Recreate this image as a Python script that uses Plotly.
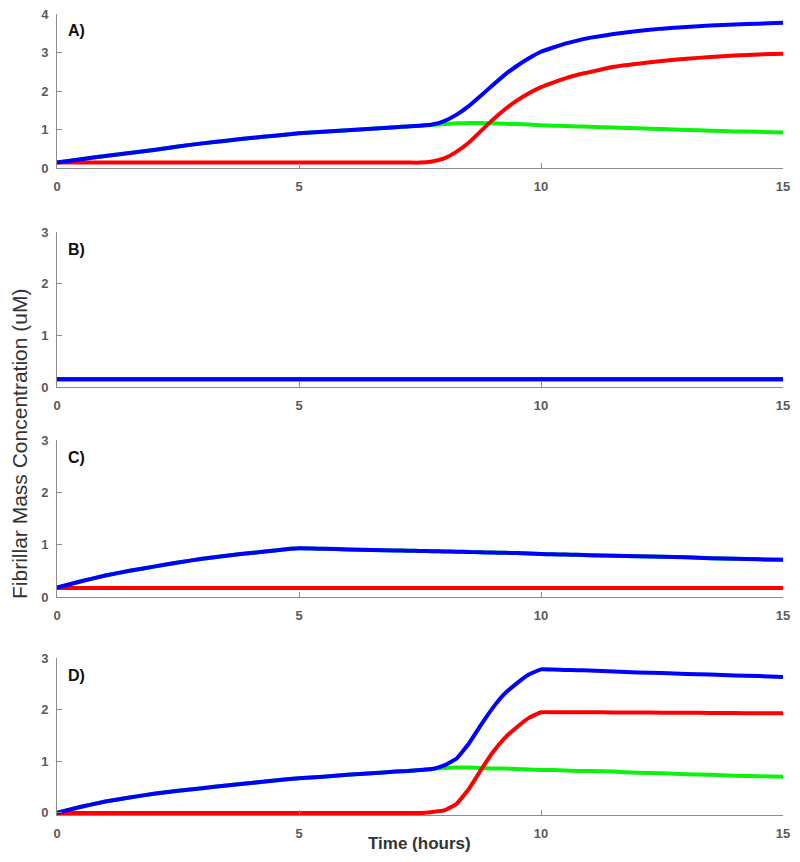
import plotly.graph_objects as go

# time grid (hours)
t = [0, 0.5, 1, 1.5, 2, 2.5, 3, 3.5, 4, 4.5, 5, 5.5, 6, 6.5,
     7, 7.25, 7.5, 7.75, 8, 8.25, 8.5, 8.75, 9, 9.25, 9.5, 9.75, 10,
     10.25, 10.5, 10.75, 11, 11.5, 12, 12.5, 13, 13.5, 14, 14.5, 15]

# Panel A
a_blue = [0.14, 0.23, 0.31, 0.39, 0.47, 0.56, 0.64, 0.71, 0.78, 0.84, 0.90, 0.94, 0.98, 1.02,
          1.06, 1.08, 1.10, 1.13, 1.22, 1.38, 1.60, 1.87, 2.15, 2.42, 2.65, 2.85, 3.02,
          3.13, 3.23, 3.31, 3.38, 3.48, 3.56, 3.62, 3.66, 3.70, 3.73, 3.75, 3.77]
a_red = [0.14] * 17 + [0.17, 0.25, 0.42, 0.65, 0.95, 1.25, 1.52, 1.75, 1.94, 2.10,
                       2.22, 2.33, 2.42, 2.49, 2.63, 2.71, 2.78, 2.84, 2.88, 2.92, 2.95, 2.97]
a_green = a_blue[:17] + [1.12, 1.14, 1.16, 1.17, 1.17, 1.16, 1.15, 1.14, 1.13, 1.11,
                         1.10, 1.09, 1.08, 1.07, 1.05, 1.03, 1.01, 0.99, 0.97, 0.95, 0.94, 0.92]

# Panel B
b_blue = [0.15] * len(t)
b_red = [0.15] * len(t)
b_green = [0.15] * len(t)

# Panel C
c_blue = [0.18, 0.30, 0.41, 0.50, 0.58, 0.66, 0.73, 0.79, 0.84, 0.89, 0.93, 0.92, 0.91, 0.90,
          0.89, 0.885, 0.88, 0.875, 0.87, 0.865, 0.86, 0.855, 0.85, 0.845, 0.84, 0.83, 0.82,
          0.815, 0.81, 0.805, 0.80, 0.79, 0.78, 0.77, 0.76, 0.74, 0.73, 0.72, 0.71]
c_red = [0.17] * len(t)
c_green = list(c_blue)

# Panel D
d_blue = [0.0, 0.12, 0.22, 0.30, 0.37, 0.43, 0.48, 0.53, 0.58, 0.63, 0.67, 0.70, 0.74, 0.77,
          0.80, 0.81, 0.83, 0.85, 0.92, 1.05, 1.33, 1.69, 2.03, 2.31, 2.51, 2.68, 2.78,
          2.775, 2.77, 2.765, 2.76, 2.74, 2.72, 2.71, 2.69, 2.68, 2.66, 2.65, 2.63]
d_red = [0.0] * 17 + [0.02, 0.05, 0.17, 0.45, 0.82, 1.17, 1.45, 1.66, 1.84, 1.95,
                      1.95, 1.95, 1.95, 1.95, 1.945, 1.945, 1.94, 1.94, 1.935, 1.935, 1.93, 1.93]
d_green = d_blue[:18] + [0.87, 0.88, 0.88, 0.87, 0.86, 0.86, 0.85, 0.84, 0.83,
                         0.83, 0.82, 0.81, 0.81, 0.80, 0.78, 0.77, 0.75, 0.74, 0.72, 0.71, 0.70]

panels = [
    ("A)", a_blue, a_red, a_green, [0, 4], [0, 1, 2, 3, 4], [14, 168]),
    ("B)", b_blue, b_red, b_green, [0, 3], [0, 1, 2, 3], [232, 387]),
    ("C)", c_blue, c_red, c_green, [0, 3], [0, 1, 2, 3], [440, 597]),
    ("D)", d_blue, d_red, d_green, [-0.04, 3], [0, 1, 2, 3], [658, 815]),
]

x_ticks = [0, 5, 10, 15]
W, H = 800, 862
OFF = 8  # page body margin
BLUE, RED, GREEN = "#0000ff", "#ff0000", "#0ef00e"
AX = "#8c8c8c"
TICKFONT = dict(family="Liberation Sans, Arial", size=13, color="#5a5a5a", weight="bold")


def px_x(p):
    return (p - OFF) / W


def px_y(p):
    return (H - (p - OFF)) / H


fig = go.Figure()
layout = dict(width=W, height=H, margin=dict(l=0, r=0, t=0, b=0, pad=0, autoexpand=False),
              paper_bgcolor="white", plot_bgcolor="white", showlegend=False,
              annotations=[])

for i, (lab, blue, red, green, yr, yt, (top, bot)) in enumerate(panels):
    n = "" if i == 0 else str(i + 1)
    xa, ya = "x" + n, "y" + n
    for vals, col in ((green, GREEN), (red, RED), (blue, BLUE)):
        fig.add_trace(go.Scatter(x=t, y=vals, mode="lines", xaxis=xa, yaxis=ya,
                                 line=dict(color=col, width=4, shape="spline", smoothing=0.3),
                                 hoverinfo="skip"))
    layout["xaxis" + n] = dict(domain=[px_x(57), px_x(783)], range=[0, 15], anchor=ya,
                              tickvals=x_ticks, ticks="inside", ticklen=5, tickcolor=AX,
                              showline=True, linecolor=AX, linewidth=1, showgrid=False,
                              zeroline=False, tickfont=TICKFONT, fixedrange=True,
                              automargin=False, ticklabelstandoff=6,
                              ticklabeloverflow="allow")
    layout["yaxis" + n] = dict(domain=[px_y(bot), px_y(top)], range=yr, anchor=xa,
                              tickvals=yt, ticks="inside", ticklen=5, tickcolor=AX,
                              showline=True, linecolor=AX, linewidth=1, showgrid=False,
                              zeroline=False, tickfont=TICKFONT, fixedrange=True,
                              automargin=False, ticklabelstandoff=5,
                              ticklabeloverflow="allow")
    layout["annotations"].append(dict(
        text="<b>" + lab + "</b>", xref=xa + " domain", yref=ya + " domain",
        x=0.012, y=1, xanchor="left", yanchor="middle", yshift=-17, showarrow=False,
        font=dict(family="Liberation Sans, Arial", size=16, color="#111111")))

layout["annotations"].append(dict(
    text="Fibrillar Mass Concentration (uM)", xref="paper", yref="paper",
    x=px_x(19), y=px_y(444), xanchor="center", yanchor="middle", textangle=-90,
    showarrow=False, font=dict(family="Liberation Sans, Arial", size=21, color="#333333")))
layout["annotations"].append(dict(
    text="<b>Time (hours)</b>", xref="paper", yref="paper",
    x=px_x(419), y=px_y(843), xanchor="center", yanchor="middle",
    showarrow=False, font=dict(family="Liberation Sans, Arial", size=17, color="#333333")))

fig.update_layout(**layout)
fig.write_html("out.html")
